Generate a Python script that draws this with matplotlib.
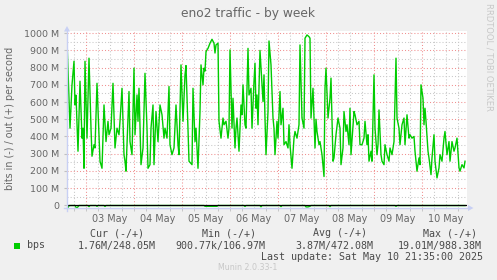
import matplotlib
matplotlib.use("Agg")
import matplotlib.pyplot as plt
from matplotlib.lines import Line2D
from matplotlib.patches import Rectangle, Polygon

# ---------------- data ----------------
START_H = -9.5      # first sample, hours relative to 03 May 00:00
STEP_H = 0.5        # 30-minute samples

out_steps = [
    0, 3, 5, 7, 8, 9, 11, 13, 15, 16,
    17, 18, 20, 22, 24, 25, 27, 28, 30, 32,
    33, 35, 37, 39, 41, 42, 44, 46, 48, 50,
    52, 53, 55, 57, 58, 59, 62, 63, 65, 67,
    68, 70, 71, 72, 74, 76, 78, 80, 81, 83,
    84, 86, 87, 89, 91, 93, 95, 97, 98, 100,
    102, 103, 105, 107, 109, 111, 112, 114, 116, 118,
    119, 121, 122, 125, 126, 128, 129, 131, 133, 134,
    136, 137, 138, 139, 141, 143, 145, 147, 148, 149,
    151, 152, 154, 156, 157, 159, 161, 162, 163, 165,
    166, 168, 169, 170, 172, 174, 175, 176, 178, 179,
    181, 182, 184, 185, 187, 188, 189, 190, 191, 193,
    196, 197, 198, 199, 201, 202, 204, 206, 207, 208,
    210, 211, 213, 214, 216, 217, 219, 221, 222, 223,
    225, 227, 228, 230, 232, 233, 235, 237, 238, 240,
    242, 243, 244, 246, 248, 249, 250, 252, 253, 255,
    257, 258, 259, 261, 263, 264, 266, 267, 269, 271,
    273, 274, 276, 277, 279, 280, 282, 283, 284, 287,
    288, 290, 292, 293, 295, 297, 298, 300, 301, 302,
    304, 305, 307, 308, 310, 311, 312, 314, 315, 317,
    318, 320, 322, 323, 325, 327, 329, 330, 332, 333,
    335, 337, 338, 340, 342, 343, 345, 347, 348, 350,
    352, 353, 354, 356, 357, 358, 359, 361, 362, 364,
    365, 367, 368, 370, 372, 373, 375, 377, 378, 380,
    382, 383, 385, 387, 388, 390, 392, 393, 395, 397,
    398]

out_mbps = [
    961, 448, 700, 837, 583, 640, 314, 721, 390, 448,
    215, 837, 390, 855, 448, 285, 352, 333, 709, 410,
    256, 215, 583, 370, 488, 410, 448, 709, 333, 448,
    410, 488, 680, 294, 256, 198, 661, 370, 294, 797,
    410, 641, 488, 680, 236, 333, 767, 448, 215, 236,
    448, 583, 236, 545, 370, 583, 526, 390, 448, 390,
    690, 352, 294, 333, 583, 352, 294, 816, 488, 758,
    812, 448, 256, 236, 680, 370, 448, 215, 545, 816,
    700, 797, 780, 893, 912, 942, 965, 942, 885, 932,
    942, 488, 390, 507, 468, 488, 390, 448, 903, 448,
    622, 333, 448, 507, 314, 583, 526, 700, 468, 448,
    912, 641, 680, 448, 719, 826, 564, 641, 468, 900,
    603, 758, 507, 294, 545, 955, 816, 507, 448, 294,
    488, 390, 661, 468, 564, 352, 370, 333, 468, 352,
    215, 390, 429, 390, 468, 932, 507, 448, 971, 990,
    980, 971, 507, 680, 333, 500, 429, 352, 370, 294,
    167, 680, 797, 507, 622, 739, 256, 275, 410, 507,
    448, 236, 333, 545, 429, 468, 352, 564, 294, 545,
    526, 468, 488, 352, 352, 390, 488, 352, 410, 256,
    314, 256, 758, 448, 294, 352, 554, 294, 256, 236,
    352, 294, 256, 333, 294, 370, 855, 507, 448, 352,
    468, 507, 352, 526, 390, 410, 390, 400, 314, 198,
    275, 236, 700, 622, 468, 564, 488, 314, 275, 178,
    275, 410, 256, 159, 217, 294, 256, 390, 429, 294,
    370, 256, 370, 314, 333, 390, 217, 198, 236, 217,
    256]

in_steps = [0, 1, 2, 4, 8, 9, 10, 12, 21, 22, 23, 29, 30, 31, 37, 38, 39,
            137, 138, 150, 151, 177, 178, 179, 193, 194, 195, 213, 214, 215,
            238, 239, 241, 243, 244, 262, 263, 264, 328, 329, 330, 398]
in_mbps = [8, 14, 2, 1.5, 1.5, 12, 16, 1.5, 1.5, 8, 1.5, 1.5, 6, 1.5, 1.5, 7, 1.5,
           1.5, 6, 6, 1.5, 1.5, 7, 1.5, 1.5, 9, 1.5, 1.5, 8, 1.5,
           1.5, 10, 10, 6, 1.5, 1.5, 8, 1.5, 1.5, 6, 1.5, 1.76]

day_labels = ["03 May", "04 May", "05 May", "06 May", "07 May", "08 May", "09 May", "10 May"]
y_ticks = [0, 100, 200, 300, 400, 500, 600, 700, 800, 900, 1000]
y_labels = ["0"] + [f"{v} M" for v in y_ticks[1:]]

legend_name = "bps"
legend_headers = ["Cur (-/+)", "Min (-/+)", "Avg (-/+)", "Max (-/+)"]
legend_values = ["1.76M/248.05M", "900.77k/106.97M", "3.87M/472.08M", "19.01M/988.38M"]
last_update = "Last update: Sat May 10 21:35:00 2025"

assert len(out_steps) == len(out_mbps)
assert len(in_steps) == len(in_mbps)

# ---------------- figure ----------------
W, H = 497, 280
def fx(px):
    return px / W
def fy(py):
    return 1 - py / H

GREEN = "#00CC00"
AXISC = "#C8D0F4"
TXT = "#666666"
LEG = "#4a4a4a"
MONO = "DejaVu Sans Mono"

fig = plt.figure(figsize=(W / 100, H / 100), dpi=100, facecolor="#F0F0F0")
ax = fig.add_axes([fx(67), fy(208), 400 / W, 177 / H])
ax.set_facecolor("white")
for s in ax.spines.values():
    s.set_visible(False)

ax.set_xlim(-9.5, 190.5)
ax.set_ylim(-16, 1013)

# grid
dot = (0, (1, 2))
for h in range(-6, 190, 6):
    if h % 24 == 0:
        ax.axvline(h, color="#F09090", lw=0.75, ls=dot, zorder=1)
    else:
        ax.axvline(h, color="#C8C8C8", lw=0.75, ls=dot, zorder=0.5)
for v in range(50, 1001, 50):
    if v % 100 == 0:
        ax.axhline(v, color="#F09090", lw=0.75, ls=dot, zorder=1)
    else:
        ax.axhline(v, color="#C8C8C8", lw=0.75, ls=dot, zorder=0.5)

# data
hours_out = [START_H + s * STEP_H for s in out_steps]
hours_in = [START_H + s * STEP_H for s in in_steps]
ax.plot(hours_out, out_mbps, color=GREEN, lw=1.0, zorder=3)
ax.plot(hours_in, [-v for v in in_mbps], color=GREEN, lw=1.0, zorder=3)
ax.axhline(0, color="black", lw=0.9, zorder=4)

# ticks
ax.set_yticks(y_ticks)
ax.set_yticklabels(y_labels)
ax.set_xticks([12 + 24 * k for k in range(len(day_labels))])
ax.set_xticklabels(day_labels)
ax.tick_params(axis="x", length=0, pad=4, labelsize=6.9, labelcolor=TXT)
ax.tick_params(axis="y", length=2, color="#C0C0C0", pad=3.5, labelsize=6.8, labelcolor=TXT)
ax.set_xticks(list(range(-6, 190, 6)), minor=True)
ax.tick_params(axis="x", which="minor", length=2, color="#C0C0C0")

# axis lines with arrows
fig.add_artist(Line2D([fx(67), fx(67)], [fy(211), fy(30)], color=AXISC, lw=1.0))
fig.add_artist(Polygon([[fx(64), fy(31.5)], [fx(70), fy(31.5)], [fx(67), fy(26)]],
                       closed=True, color=AXISC, lw=0))
fig.add_artist(Line2D([fx(64), fx(469)], [fy(208), fy(208)], color=AXISC, lw=1.0))
fig.add_artist(Polygon([[fx(468), fy(205)], [fx(468), fy(211)], [fx(473.5), fy(208)]],
                       closed=True, color=AXISC, lw=0))

# texts
fig.text(fx(248), fy(13), "eno2 traffic - by week", ha="center", va="center",
         fontsize=8.8, color=TXT)
fig.text(fx(10.5), fy(118.5), "bits in (-) / out (+) per second", rotation=90,
         ha="center", va="center", fontsize=6.9, color=TXT)
fig.text(fx(488.5), fy(56.5), "RRDTOOL / TOBI OETIKER", rotation=270,
         ha="center", va="center", fontsize=6.0, color="#C8C8C8")
fig.text(fx(248), fy(268), "Munin 2.0.33-1", ha="center", va="center",
         fontsize=5.7, color="#C8C8C8")

# legend
fig.add_artist(Rectangle((fx(14), fy(248.5)), 6 / W, 6 / H, color=GREEN, lw=0))
fig.text(fx(27), fy(245.5), legend_name, ha="left", va="center",
         fontsize=7.2, family=MONO, color=LEG)
head_x = [90, 202, 312.7, 423.3]
val_x = [78, 175, 295.7, 397.3]
for hx, vx, hd, vl in zip(head_x, val_x, legend_headers, legend_values):
    fig.text(fx(hx), fy(233), hd, ha="left", va="center",
             fontsize=7.2, family=MONO, color=LEG)
    fig.text(fx(vx), fy(245.5), vl, ha="left", va="center",
             fontsize=7.2, family=MONO, color=LEG)
fig.text(fx(483), fy(257.5), last_update, ha="right", va="center",
         fontsize=7.2, family=MONO, color=LEG)

fig.savefig("out.png", dpi=100, facecolor=fig.get_facecolor())
